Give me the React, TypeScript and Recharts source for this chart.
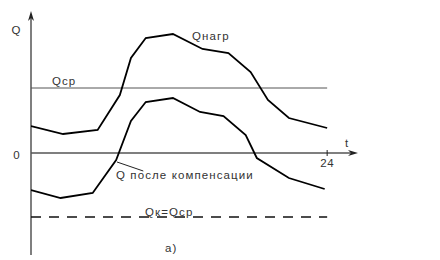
import React from "react";
import { ComposedChart, Line, XAxis, YAxis, ReferenceLine, ReferenceDot } from "recharts";

// hours of the day
const loadHours = [0, 2.6, 5.4, 7.2, 8.1, 9.3, 11.5, 13.9, 16, 17.8, 19.2, 20.9, 24];
// Qнагр values
const loadQ = [27, 19, 23, 58, 95, 115, 119, 104, 100, 81, 53, 35, 25];
const compHours = [0, 2.4, 5.0, 6.9, 8.1, 9.3, 11.5, 13.7, 15.6, 17.4, 18.3, 20.9, 23.8];
// Q после компенсации
const compQ = [-37, -45, -40, -7, 32, 51, 55, 41, 37, 18, -5, -25, -36];
const qAvg = 65;
const qComp = -64;
const tickLabels = ["24"];
const tickHours = [24];

const loadData = loadHours.map((t, i) => ({ t, q: loadQ[i] }));
const compData = compHours.map((t, i) => ({ t, q: compQ[i] }));

const X_MAX = 26.5;
const Y_MIN = -102;
const Y_MAX = 142;

const FONT = "'Liberation Sans', Arial, sans-serif";
const AXIS = "#555";

const textShape = (label: string, anchor: string = "start", size = 11.5) => (p: any) => (
  <text
    x={p.cx}
    y={p.cy}
    textAnchor={anchor}
    dominantBaseline="central"
    fontFamily={FONT}
    fontSize={size}
    letterSpacing={anchor === "start" ? 1.1 : 0.5}
    fill="#333"
  >
    {label}
  </text>
);

const upArrow = (p: any) => (
  <path d={`M${p.cx},${p.cy} L${p.cx - 3},${p.cy + 10} L${p.cx},${p.cy + 7} L${p.cx + 3},${p.cy + 10} Z`} fill="#222" />
);
const rightArrow = (p: any) => (
  <path d={`M${p.cx},${p.cy} L${p.cx - 10},${p.cy - 3} L${p.cx - 7},${p.cy} L${p.cx - 10},${p.cy + 3} Z`} fill="#222" />
);

export default function App() {
  return (
    <div style={{ position: "fixed", left: 0, top: 0, background: "#fff" }}>
      <ComposedChart width={440} height={260} margin={{ top: 11, right: 82, bottom: 5, left: 31 }}>
        <XAxis dataKey="t" type="number" domain={[0, X_MAX]} hide allowDataOverflow />
        <YAxis type="number" domain={[Y_MIN, Y_MAX]} hide allowDataOverflow />
        {/* axes */}
        <ReferenceLine segment={[{ x: 0, y: Y_MIN }, { x: 0, y: Y_MAX - 3 }]} stroke={AXIS} strokeWidth={1.5} ifOverflow="visible" />
        <ReferenceLine segment={[{ x: 0, y: 0 }, { x: X_MAX - 0.3, y: 0 }]} stroke={AXIS} strokeWidth={1.5} ifOverflow="visible" />
        <ReferenceDot x={0} y={Y_MAX} shape={upArrow} ifOverflow="visible" />
        <ReferenceDot x={X_MAX} y={0} shape={rightArrow} ifOverflow="visible" />
        {tickHours.map((h, i) => (
          <ReferenceLine key={"tk" + i} segment={[{ x: h, y: -3 }, { x: h, y: 3 }]} stroke="#222" strokeWidth={1} ifOverflow="visible" />
        ))}
        {tickHours.map((h, i) => (
          <ReferenceDot key={"tl" + i} x={h} y={-10} shape={textShape(tickLabels[i], "middle")} ifOverflow="visible" />
        ))}
        {/* Qср and Qк lines */}
        <ReferenceLine segment={[{ x: 0, y: qAvg }, { x: 24, y: qAvg }]} stroke="#555" strokeWidth={1} ifOverflow="visible" />
        <ReferenceLine segment={[{ x: 0, y: qComp }, { x: 24, y: qComp }]} stroke="#111" strokeWidth={1.6} strokeDasharray="10 8" ifOverflow="visible" />
        {/* leader line */}
        <ReferenceLine segment={[{ x: 6.97, y: -9 }, { x: 9.1, y: -18 }]} stroke="#222" strokeWidth={1} ifOverflow="visible" />
        <Line data={loadData} dataKey="q" type="linear" dot={false} stroke="#000" strokeWidth={1.8} isAnimationActive={false} />
        <Line data={compData} dataKey="q" type="linear" dot={false} stroke="#000" strokeWidth={1.8} isAnimationActive={false} />
        {/* labels */}
        <ReferenceDot x={-1.2} y={123} shape={textShape("Q", "middle")} ifOverflow="visible" />
        <ReferenceDot x={-1.15} y={-2} shape={textShape("0", "middle")} ifOverflow="visible" />
        <ReferenceDot x={1.7} y={72} shape={textShape("Qср")} ifOverflow="visible" />
        <ReferenceDot x={13.05} y={117} shape={textShape("Qнагр")} ifOverflow="visible" />
        <ReferenceDot x={25.6} y={10} shape={textShape("t", "middle")} ifOverflow="visible" />
        <ReferenceDot x={6.89} y={-22} shape={textShape("Q после компенсации")} ifOverflow="visible" />
        <ReferenceDot x={9.24} y={-59} shape={textShape("Qк=Qср")} ifOverflow="visible" />
        <ReferenceDot x={10.86} y={-95} shape={textShape("а)")} ifOverflow="visible" />
      </ComposedChart>
    </div>
  );
}
